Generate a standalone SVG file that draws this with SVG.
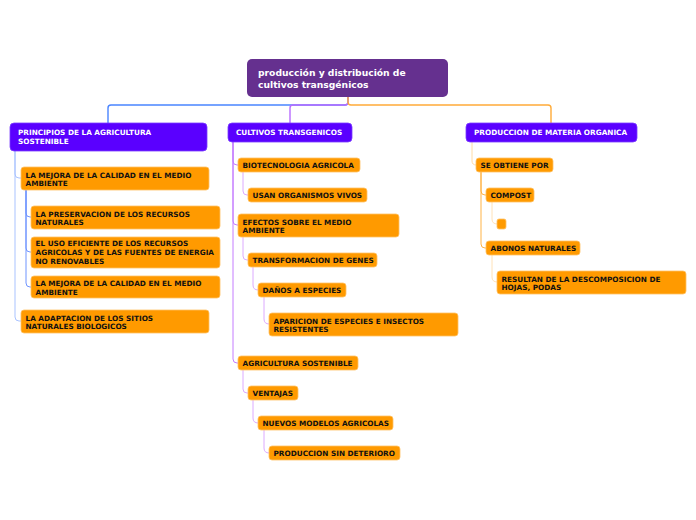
<svg xmlns="http://www.w3.org/2000/svg" width="696" height="520" viewBox="0 0 696 520">
<style>
.root{fill:#65308f}
.l1{fill:#5a00ff;stroke:#7a3cff;stroke-width:0.8}
.l2{fill:#ff9a00;stroke:#ffc266;stroke-width:0.8}
.tr{font-family:"DejaVu Sans",Verdana,sans-serif;font-weight:bold;font-size:9.2px;fill:#fff}
.t1{font-family:"DejaVu Sans",Verdana,sans-serif;font-weight:bold;font-size:7.3px;fill:#fff}
.t2{font-family:"DejaVu Sans",Verdana,sans-serif;font-weight:bold;font-size:7.3px;fill:#111}
.c{fill:none;stroke-linecap:round}
.cb{stroke:#4a85ff;stroke-width:1.4}
.cp{stroke:#b86cff;stroke-width:1.4}
.co{stroke:#ffab38;stroke-width:1.4}
.cb1{stroke:#a9c3ff;stroke-width:1}
.cb2{stroke:#6f94ff;stroke-width:1}
.cp1{stroke:#c47dff;stroke-width:1}
.cp2{stroke:#dcaaff;stroke-width:1}
.co1{stroke:#ffdca6;stroke-width:1}
.co2{stroke:#ffb347;stroke-width:1}
.co3{stroke:#ffe2b8;stroke-width:1}
</style>
<rect width="696" height="520" fill="#fff"/>
<g id="connectors">
<path class="c cb" d="M348,97 V102 Q348,105 345,105 H111 Q108,105 108,108 V123"/>
<path class="c cp" d="M348,97 V102 Q348,105 345,105 H293 Q290,105 290,108 V123"/>
<path class="c co" d="M348,97 V102 Q348,105 351,105 H548 Q551,105 551,108 V123"/>
<path class="c cb1" d="M15,151 V174 Q15,178 19,178 H21"/>
<path class="c cb1" d="M15,151 V317 Q15,321 19,321 H21"/>
<path class="c cb2" d="M26,190 V213 Q26,217 30,217 H31"/>
<path class="c cb2" d="M26,190 V248 Q26,252 30,252 H31"/>
<path class="c cb2" d="M26,190 V283 Q26,287 30,287 H31"/>
<path class="c cp1" d="M233,142 V161 Q233,165 237,165 H238"/>
<path class="c cp1" d="M233,142 V221 Q233,225 237,225 H238"/>
<path class="c cp1" d="M233,142 V359 Q233,363 237,363 H238"/>
<path class="c cp2" d="M243,172 V191 Q243,195 247,195 H248"/>
<path class="c cp2" d="M243,237 V256 Q243,260 247,260 H248"/>
<path class="c cp2" d="M253,267 V285 Q253,290 258,290"/>
<path class="c cp2" d="M264,297 V319 Q264,324 269,324"/>
<path class="c cp2" d="M243,370 V389 Q243,393 247,393 H248"/>
<path class="c cp2" d="M253,400 V418 Q253,423 258,423"/>
<path class="c cp2" d="M264,430 V448 Q264,453 269,453"/>
<path class="c co1" d="M472,142 V161 Q472,165 476,165"/>
<path class="c co2" d="M481,172 V191 Q481,195 485,195 H486"/>
<path class="c co2" d="M481,172 V244 Q481,248 485,248 H486"/>
<path class="c co3" d="M492,202 V219 Q492,224 497,224"/>
<path class="c co3" d="M492,255 V277 Q492,282 497,282"/>
</g>
<g id="root"><rect class="root" x="247" y="59" width="201" height="38" rx="5"/><text class="tr" x="258" y="76">producción y distribución de</text><text class="tr" x="258" y="87.5">cultivos transgénicos</text></g>
<g id="principios"><rect class="l1" x="10" y="123" width="197" height="28" rx="4"/><text class="t1" x="18" y="135">PRINCIPIOS DE LA AGRICULTURA</text><text class="t1" x="18" y="144">SOSTENIBLE</text></g>
<g id="cultivos"><rect class="l1" x="228" y="123" width="124" height="19" rx="4"/><text class="t1" x="236" y="135">CULTIVOS TRANSGENICOS</text></g>
<g id="produccion"><rect class="l1" x="466" y="123" width="171" height="19" rx="4"/><text class="t1" x="474" y="135">PRODUCCION DE MATERIA ORGANICA</text></g>
<g id="mejora1"><rect class="l2" x="21" y="167" width="188" height="23" rx="3"/><text class="t2" x="25.5" y="177.6">LA MEJORA DE LA CALIDAD EN EL MEDIO</text><text class="t2" x="25.5" y="186.3">AMBIENTE</text></g>
<g id="preservacion"><rect class="l2" x="31" y="206" width="189" height="23" rx="3"/><text class="t2" x="35.5" y="216.6">LA PRESERVACION DE LOS RECURSOS</text><text class="t2" x="35.5" y="225.3">NATURALES</text></g>
<g id="uso"><rect class="l2" x="31" y="237" width="189" height="31" rx="3"/><text class="t2" x="35.5" y="246">EL USO EFICIENTE DE LOS RECURSOS</text><text class="t2" x="35.5" y="255">AGRICOLAS Y DE LAS FUENTES DE ENERGIA</text><text class="t2" x="35.5" y="263.7">NO RENOVABLES</text></g>
<g id="mejora2"><rect class="l2" x="31" y="276" width="189" height="22" rx="3"/><text class="t2" x="35.5" y="286.3">LA MEJORA DE LA CALIDAD EN EL MEDIO</text><text class="t2" x="35.5" y="294.6">AMBIENTE</text></g>
<g id="adaptacion"><rect class="l2" x="21" y="310" width="188" height="23" rx="3"/><text class="t2" x="25.5" y="320.6">LA ADAPTACION DE LOS SITIOS</text><text class="t2" x="25.5" y="329.3">NATURALES BIOLOGICOS</text></g>
<g id="biotec"><rect class="l2" x="238" y="158" width="122" height="14" rx="3"/><text class="t2" x="242.5" y="167.7">BIOTECNOLOGIA AGRICOLA</text></g>
<g id="usan"><rect class="l2" x="248" y="188" width="119" height="14" rx="3"/><text class="t2" x="252.5" y="197.7">USAN ORGANISMOS VIVOS</text></g>
<g id="efectos"><rect class="l2" x="238" y="214" width="161" height="23" rx="3"/><text class="t2" x="242.5" y="224.6">EFECTOS SOBRE EL MEDIO</text><text class="t2" x="242.5" y="233.3">AMBIENTE</text></g>
<g id="transformacion"><rect class="l2" x="248" y="253" width="129" height="14" rx="3"/><text class="t2" x="252.5" y="262.7">TRANSFORMACION DE GENES</text></g>
<g id="danos"><rect class="l2" x="258" y="283" width="88" height="14" rx="3"/><text class="t2" x="262.5" y="292.7">DAÑOS A ESPECIES</text></g>
<g id="aparicion"><rect class="l2" x="269" y="313" width="189" height="23" rx="3"/><text class="t2" x="273.5" y="323.6">APARICION DE ESPECIES E INSECTOS</text><text class="t2" x="273.5" y="332.3">RESISTENTES</text></g>
<g id="agricultura"><rect class="l2" x="238" y="356" width="120" height="14" rx="3"/><text class="t2" x="242.5" y="365.7">AGRICULTURA SOSTENIBLE</text></g>
<g id="ventajas"><rect class="l2" x="248" y="386" width="50" height="14" rx="3"/><text class="t2" x="252.5" y="395.7">VENTAJAS</text></g>
<g id="nuevos"><rect class="l2" x="258" y="416" width="135" height="14" rx="3"/><text class="t2" x="262.5" y="425.7">NUEVOS MODELOS AGRICOLAS</text></g>
<g id="produccion_sin"><rect class="l2" x="269" y="446" width="131" height="14" rx="3"/><text class="t2" x="273.5" y="455.7">PRODUCCION SIN DETERIORO</text></g>
<g id="se_obtiene"><rect class="l2" x="476" y="158" width="77" height="14" rx="3"/><text class="t2" x="480.5" y="167.7">SE OBTIENE POR</text></g>
<g id="compost"><rect class="l2" x="486" y="188" width="48" height="14" rx="3"/><text class="t2" x="490.5" y="197.7">COMPOST</text></g>
<g id="vacio"><rect class="l2" x="497" y="219" width="9" height="10" rx="2"/></g>
<g id="abonos"><rect class="l2" x="486" y="241" width="94" height="14" rx="3"/><text class="t2" x="490.5" y="250.7">ABONOS NATURALES</text></g>
<g id="resultan"><rect class="l2" x="497" y="271" width="189" height="23" rx="3"/><text class="t2" x="501.5" y="281.6">RESULTAN DE LA DESCOMPOSICION DE</text><text class="t2" x="501.5" y="290.3">HOJAS, PODAS</text></g>
</svg>
